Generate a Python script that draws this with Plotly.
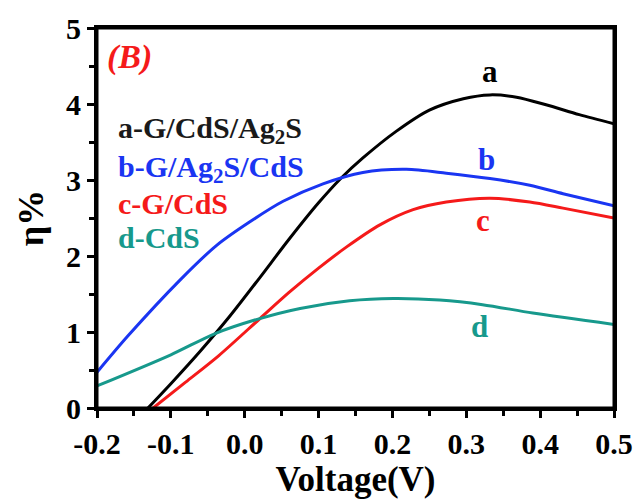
import plotly.graph_objects as go

# ---- data ----
v_a = [-0.131, -0.1, -0.06, -0.02, 0.02, 0.06, 0.1, 0.13, 0.16, 0.205, 0.25, 0.296, 0.332, 0.368, 0.408, 0.453, 0.5]
eta_a = [0.0, 0.32, 0.75, 1.21, 1.71, 2.22, 2.70, 3.02, 3.29, 3.64, 3.92, 4.07, 4.12, 4.09, 3.99, 3.86, 3.74]

v_b = [-0.2, -0.158, -0.088, -0.038, 0.007, 0.052, 0.106, 0.16, 0.219, 0.273, 0.332, 0.386, 0.431, 0.5]
eta_b = [0.47, 0.95, 1.68, 2.14, 2.45, 2.72, 2.95, 3.10, 3.14, 3.09, 3.02, 2.93, 2.82, 2.66]

v_c = [-0.124, -0.08, -0.035, 0.021, 0.06, 0.1, 0.138, 0.183, 0.228, 0.273, 0.332, 0.386, 0.431, 0.5]
eta_c = [0.0, 0.34, 0.69, 1.18, 1.52, 1.84, 2.12, 2.41, 2.61, 2.71, 2.76, 2.71, 2.63, 2.50]

v_d = [-0.2, -0.1, -0.04, 0.018, 0.075, 0.142, 0.201, 0.264, 0.322, 0.39, 0.5]
eta_d = [0.29, 0.70, 0.98, 1.17, 1.31, 1.41, 1.44, 1.42, 1.36, 1.25, 1.10]

series_names = ["a-G/CdS/Ag<sub>2</sub>S", "b-G/Ag<sub>2</sub>S/CdS", "c-G/CdS", "d-CdS"]
curve_letters = ["a", "b", "c", "d"]
letter_pos_v = [0.332, 0.327, 0.322, 0.318]
letter_pos_eta = [4.43, 3.27, 2.47, 1.07]

x_tick_vals = [-0.2, -0.1, 0.0, 0.1, 0.2, 0.3, 0.4, 0.5]
x_tick_labels = ["-0.2", "-0.1", "0.0", "0.1", "0.2", "0.3", "0.4", "0.5"]
y_tick_vals = [0, 1, 2, 3, 4, 5]
y_tick_labels = ["0", "1", "2", "3", "4", "5"]

colors = ["#000000", "#1a35f2", "#f51a1a", "#17998c"]
legend_text_colors = ["#1a1a1a", "#1a35f2", "#f51a1a", "#17998c"]

FONT = "Liberation Serif"

fig = go.Figure()
for xs, ys, col in zip([v_a, v_b, v_c, v_d], [eta_a, eta_b, eta_c, eta_d], colors):
    fig.add_trace(go.Scatter(x=xs, y=ys, mode="lines",
                             line=dict(color=col, width=3, shape="spline", smoothing=0.8),
                             showlegend=False, hoverinfo="skip"))

# curve letters
for t, xv, yv, col in zip(curve_letters, letter_pos_v, letter_pos_eta, colors):
    fig.add_annotation(x=xv, y=yv, xref="x", yref="y", text=t, showarrow=False,
                       font=dict(family=FONT, size=31, color=col, weight="bold"))

# legend-like text block
legend_y = [0.732, 0.628, 0.539, 0.45]
for t, yy, col in zip(series_names, legend_y, legend_text_colors):
    fig.add_annotation(x=0.036, y=yy, xref="paper", yref="paper", text=t, showarrow=False,
                       xanchor="left", yanchor="middle",
                       font=dict(family=FONT, size=30, color=col, weight="bold"))

# panel label
fig.add_annotation(x=0.016, y=0.924, xref="paper", yref="paper", text="<i>(B)</i>", showarrow=False,
                   xanchor="left", yanchor="middle",
                   font=dict(family=FONT, size=34, color="#f51a1a", weight="bold"))

# frame around the plotting area
fig.add_shape(type="rect", xref="paper", yref="paper", x0=0, x1=1, y0=0, y1=1,
              line=dict(color="black", width=3), fillcolor="rgba(0,0,0,0)", layer="above")

axis_common = dict(showline=True, linecolor="black", linewidth=3, mirror=True,
                   ticks="outside", tickcolor="black", tickwidth=2.5, ticklen=7,
                   showgrid=False, zeroline=False, automargin=False,
                   tickfont=dict(family=FONT, size=30, color="black", weight="bold"))

fig.update_xaxes(range=[-0.2, 0.5], tickvals=x_tick_vals, ticktext=x_tick_labels,
                 minor=dict(dtick=0.05, ticks="outside", ticklen=5, tickwidth=2.5, tickcolor="black"),
                 title=dict(text="Voltage(V)", standoff=6,
                            font=dict(family=FONT, size=35, color="black", weight="bold")),
                 **axis_common)
fig.update_yaxes(range=[0, 5], tickvals=y_tick_vals, ticktext=y_tick_labels,
                 minor=dict(dtick=0.5, ticks="outside", ticklen=5, tickwidth=2.5, tickcolor="black"),
                 title=dict(text="η%", standoff=12,
                            font=dict(family=FONT, size=36, color="black", weight="bold")),
                 **axis_common)

fig.update_layout(width=633, height=501, margin=dict(l=97, r=19, t=28, b=93),
                  plot_bgcolor="white", paper_bgcolor="white")

fig.write_html("out.html", config={"displayModeBar": False},
               post_script="document.body.style.margin='0';document.body.style.overflow='hidden';")
